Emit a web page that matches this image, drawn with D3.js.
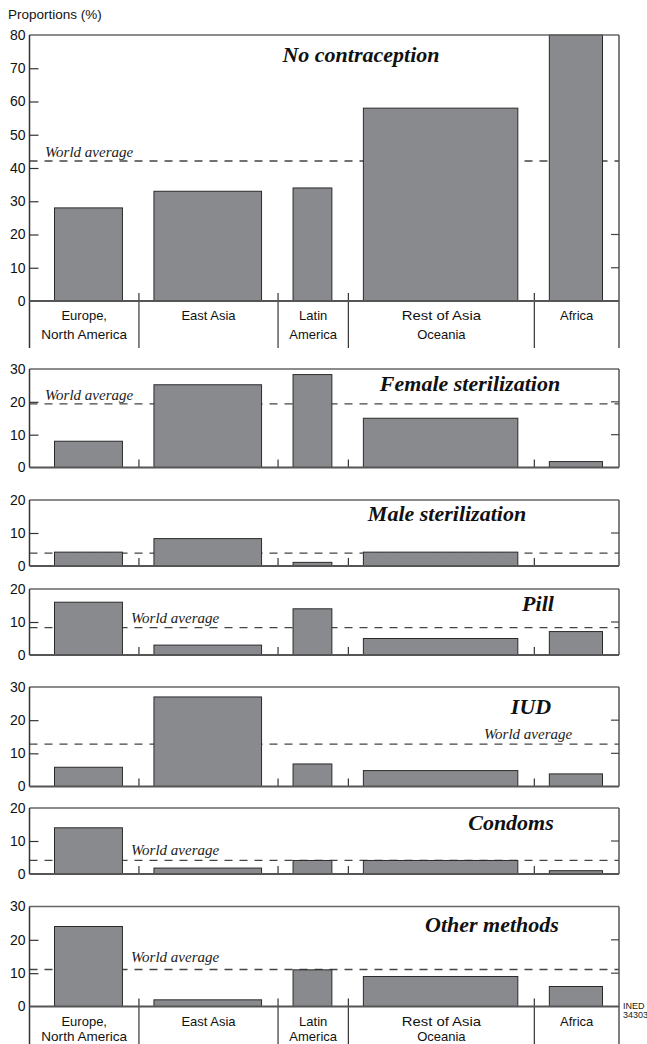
<!DOCTYPE html>
<html><head><meta charset="utf-8">
<script src="https://cdn.jsdelivr.net/npm/d3@7"></script>
<style>
html,body{margin:0;padding:0;background:#fff;}
svg{display:block;}
</style></head>
<body>
<svg id="chart" width="647" height="1044"></svg>
<script>
// ---------- data ----------
const categoryLines = [["Europe,", "North America"], ["East Asia"], ["Latin", "America"], ["Rest of Asia", "Oceania"], ["Africa"]];
const regionWeights = [16.1, 25.5, 9.2, 36.6, 12.6]; // relative bar widths (share of women)
const methods = ["No contraception", "Female sterilization", "Male sterilization", "Pill", "IUD", "Condoms", "Other methods"];
const noContraception = [28, 33, 34, 58, 80];
const femaleSterilization = [8, 25.2, 28.3, 15, 1.8];
const maleSterilization = [4.2, 8.3, 1.1, 4.2, 0];
const pill = [16, 3, 14, 5, 7.1];
const iud = [5.8, 27, 6.8, 4.8, 3.8];
const condoms = [14, 1.8, 4.1, 4.1, 1];
const otherMethods = [24, 2, 11, 9, 6];
const worldAverage = [42.1, 19.4, 3.9, 8.3, 12.8, 4.1, 11.1];
const axisMax = [80, 30, 20, 20, 30, 20, 30];
const axisLabel = "Proportions (%)";
const sourceNote = ["INED", "34303"];

const series = [noContraception, femaleSterilization, maleSterilization, pill, iud, condoms, otherMethods];

// ---------- layout ----------
const left = 29.5, right = 619;
const gap = 31.5, pad = 15, firstExtra = 10;
const panels = [
  {top: 35, bottom: 301, title: [361, 62], avgLabel: [45, -4.5], labels: 18.5},
  {top: 369, bottom: 467.5, title: [470, 390.5], avgLabel: [45, -4]},
  {top: 500, bottom: 566, title: [447, 521], avgLabel: null},
  {top: 589, bottom: 655, title: [538, 611], avgLabel: [131, -5]},
  {top: 687, bottom: 786.5, title: [531, 714], avgLabel: [484, -5]},
  {top: 808, bottom: 874, title: [511, 830], avgLabel: [131, -5]},
  {top: 906.5, bottom: 1006.5, title: [492, 932], avgLabel: [131, -8], labels: 15}
];

const svg = d3.select("#chart");
const barTotal = (right - left) - gap * categoryLines.length - firstExtra;
const xw = d3.scaleLinear().domain([0, d3.sum(regionWeights)]).range([0, barTotal]);

// segment boundaries and bar positions
const segs = [];
let cur = left;
regionWeights.forEach((w, i) => {
  const bw = xw(w);
  const extra = i === 0 ? firstExtra : 0;
  const sw = bw + gap + extra;
  segs.push({x0: cur, x1: cur + sw, bx: cur + pad + extra, bw: bw});
  cur += sw;
});
segs[segs.length - 1].x1 = right;

svg.append("text").attr("x", 8).attr("y", 19)
  .attr("font-family", "Liberation Sans, Arial, sans-serif").attr("font-size", 13.5)
  .attr("fill", "#111").text(axisLabel);

panels.forEach((p, k) => {
  const y = d3.scaleLinear().domain([0, axisMax[k]]).range([p.bottom, p.top]);
  const g = svg.append("g");
  const ticks = d3.range(0, axisMax[k] + 1, 10);

  // world average dashed line (behind bars)
  g.append("line").attr("x1", left).attr("x2", right)
    .attr("y1", y(worldAverage[k])).attr("y2", y(worldAverage[k]))
    .attr("stroke", "#444").attr("stroke-width", 1.3).attr("stroke-dasharray", "8,7");
  if (p.avgLabel) {
    g.append("text").attr("x", p.avgLabel[0]).attr("y", y(worldAverage[k]) + p.avgLabel[1])
      .attr("font-family", "Liberation Serif, Times New Roman, serif").attr("font-style", "italic")
      .attr("font-size", 15).attr("fill", "#222").text("World average");
  }

  // bars
  g.selectAll("rect.bar").data(series[k]).join("rect").attr("class", "bar")
    .filter(d => d > 0)
    .attr("x", (d, i) => segs[i].bx).attr("width", (d, i) => segs[i].bw)
    .attr("y", d => y(d)).attr("height", d => y(0) - y(d))
    .attr("fill", "#898a8e").attr("stroke", "#2b2b2b").attr("stroke-width", 1);

  // frame: top and right border
  g.append("line").attr("x1", left).attr("x2", right).attr("y1", p.top).attr("y2", p.top)
    .attr("stroke", "#666").attr("stroke-width", 1.5);
  const ext = p.labels ? 47 : 0;
  g.append("line").attr("x1", right).attr("x2", right).attr("y1", p.top).attr("y2", p.bottom + ext)
    .attr("stroke", "#555").attr("stroke-width", 1.5);
  g.append("line").attr("x1", left).attr("x2", left).attr("y1", p.top).attr("y2", p.bottom + ext)
    .attr("stroke", "#333").attr("stroke-width", 1.5);

  // left axis with inward ticks
  const ax = g.append("g").attr("transform", `translate(${left},0)`)
    .call(d3.axisLeft(y).tickValues(ticks).tickSize(-9).tickPadding(4).tickFormat(d3.format("d")));
  ax.select(".domain").remove();
  ax.selectAll(".tick line").filter(d => d === 0 || d === axisMax[k]).remove();
  ax.selectAll(".tick line").attr("stroke", "#333").attr("stroke-width", 1.2);
  ax.selectAll(".tick text").attr("font-family", "Liberation Sans, Arial, sans-serif")
    .attr("font-size", 14).attr("fill", "#111");

  // right inward ticks at 10 and 20
  const rt = ticks.filter(t => t > 0 && t <= 20 && t < axisMax[k]);
  g.selectAll("line.rt").data(rt).join("line").attr("class", "rt")
    .attr("x1", right - 8).attr("x2", right).attr("y1", d => y(d)).attr("y2", d => y(d))
    .attr("stroke", "#444").attr("stroke-width", 1.2);

  // separators between regions
  g.selectAll("line.sep").data(segs.slice(0, -1)).join("line").attr("class", "sep")
    .attr("x1", d => d.x1).attr("x2", d => d.x1)
    .attr("y1", p.bottom - 8).attr("y2", p.bottom + ext)
    .attr("stroke", "#333").attr("stroke-width", 1.2);

  // baseline
  g.append("line").attr("x1", left).attr("x2", right).attr("y1", y(0)).attr("y2", y(0))
    .attr("stroke", "#555").attr("stroke-width", 2);

  // title
  g.append("text").attr("x", p.title[0]).attr("y", p.title[1]).attr("text-anchor", "middle")
    .attr("font-family", "Liberation Serif, Times New Roman, serif").attr("font-style", "italic")
    .attr("font-weight", "bold").attr("font-size", 22).attr("fill", "#111").text(methods[k]);

  // category labels
  if (p.labels) {
    const lg = g.selectAll("text.cat").data(categoryLines).join("text").attr("class", "cat")
      .attr("text-anchor", "middle")
      .attr("font-family", "Liberation Sans, Arial, sans-serif").attr("font-size", 13)
      .attr("fill", "#111");
    lg.selectAll("tspan").data((d, i) => d.map(t => ({t, i}))).join("tspan")
      .attr("x", d => (segs[d.i].x0 + segs[d.i].x1) / 2)
      .attr("y", (d, j) => p.bottom + 19 + j * p.labels)
      .attr("textLength", d => d.t.length > 9 ? d.t.length * 6.6 : null)
      .attr("lengthAdjust", "spacingAndGlyphs")
      .text(d => d.t);
  }
});

// source note
svg.append("g").selectAll("text").data(sourceNote).join("text")
  .attr("x", 623).attr("y", (d, i) => 1009 + i * 9)
  .attr("font-family", "Liberation Sans, Arial, sans-serif").attr("font-size", 9)
  .attr("fill", "#222").text(d => d);
</script>
</body></html>
